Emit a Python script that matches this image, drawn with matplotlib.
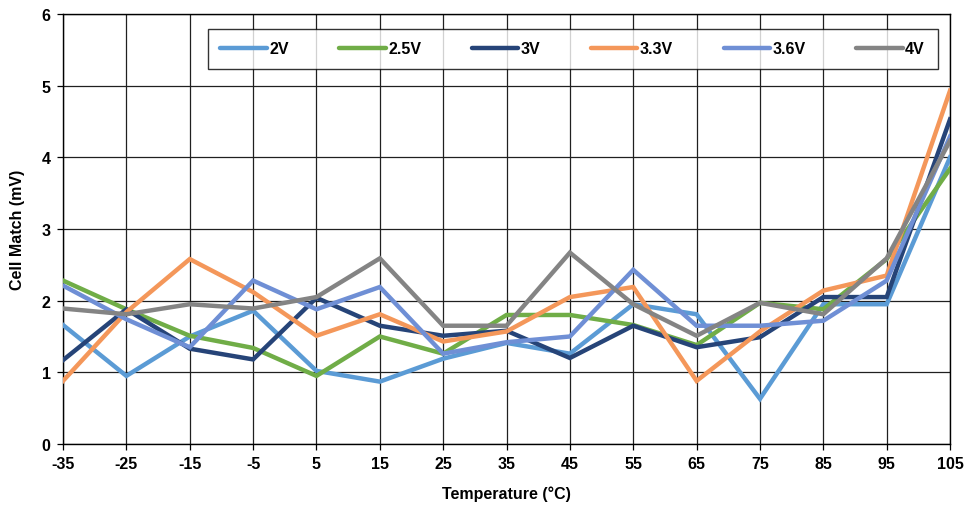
import matplotlib
matplotlib.use('Agg')
import matplotlib.pyplot as plt

plt.rcParams['font.family'] = ['Liberation Sans', 'DejaVu Sans']
plt.rcParams['axes.unicode_minus'] = False

# Datos
temperaturas = [-35, -25, -15, -5, 5, 15, 25, 35, 45, 55, 65, 75, 85, 95, 105]
etiquetas = ['2V', '2.5V', '3V', '3.3V', '3.6V', '4V']

v_2 = [1.66, 0.95, 1.50, 1.86, 1.02, 0.87, 1.19, 1.41, 1.26, 1.95, 1.81, 0.63, 1.95, 1.95, 4.00]
v_2_5 = [2.28, 1.88, 1.51, 1.34, 0.95, 1.50, 1.26, 1.80, 1.80, 1.66, 1.38, 1.97, 1.88, 2.58, 3.84]
v_3 = [1.17, 1.88, 1.33, 1.18, 2.04, 1.65, 1.51, 1.58, 1.20, 1.65, 1.35, 1.49, 2.05, 2.05, 4.53]
v_3_3 = [0.88, 1.84, 2.58, 2.12, 1.51, 1.81, 1.43, 1.57, 2.05, 2.19, 0.88, 1.57, 2.14, 2.35, 4.93]
v_3_6 = [2.21, 1.74, 1.35, 2.28, 1.88, 2.19, 1.26, 1.42, 1.50, 2.43, 1.65, 1.65, 1.72, 2.28, 4.29]
v_4 = [1.89, 1.81, 1.95, 1.89, 2.05, 2.59, 1.65, 1.65, 2.67, 1.95, 1.51, 1.97, 1.81, 2.59, 4.23]

series = [v_2, v_2_5, v_3, v_3_3, v_3_6, v_4]
colores = ['#5B9BD5', '#70AD47', '#264478', '#F4975A', '#6F8FD5', '#848484']

fig = plt.figure(figsize=(9.71, 5.10), dpi=100)
ax = fig.add_axes([0.0649, 0.1275, 0.9135, 0.8431])

for valores, color, etiqueta in zip(series, colores, etiquetas):
    ax.plot(temperaturas, valores, color=color, linewidth=3.2, label=etiqueta,
            solid_joinstyle='miter', zorder=3)

ax.set_xlim(-35, 105)
ax.set_ylim(0, 6)
ax.set_xticks(temperaturas)
ax.set_yticks(range(0, 7))
ax.grid(True, color='#202020', linewidth=0.9, zorder=0)
ax.tick_params(direction='out', length=4, width=0.9, labelsize=11.5, pad=5)
for lbl in ax.get_xticklabels() + ax.get_yticklabels():
    lbl.set_fontweight('bold')
for lado in ax.spines.values():
    lado.set_color('black')
    lado.set_linewidth(1)

ax.set_xlabel('Temperature (°C)', fontsize=11.5, fontweight='bold', labelpad=10)
ax.set_ylabel('Cell Match (mV)', fontsize=11.5, fontweight='bold', labelpad=12)

leyenda = ax.legend(ncol=6, loc='upper left', bbox_to_anchor=(0.163, 0.966, 0.823, 0.0),
                    mode='expand', frameon=True, fancybox=False, handlelength=2.9,
                    prop={'weight': 'bold', 'size': 11.5}, borderpad=0.8, columnspacing=1.0,
                    handletextpad=0.15, borderaxespad=0)
leyenda.get_frame().set_edgecolor('black')
leyenda.get_frame().set_linewidth(1)
leyenda.set_zorder(5)
for linea in leyenda.get_lines():
    linea.set_solid_capstyle('round')

fig.savefig('out.png', dpi=100)
